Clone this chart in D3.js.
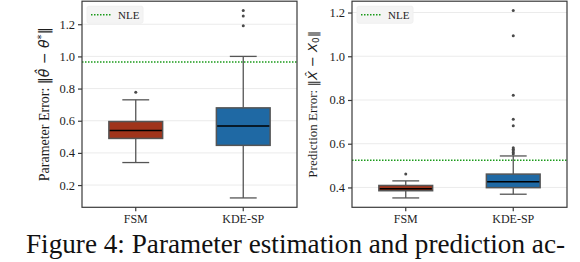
<!DOCTYPE html>
<html>
<head>
<meta charset="utf-8">
<script src="https://cdn.jsdelivr.net/npm/d3@7"></script>
<style>
  body { margin: 0; background: #fff; }
  svg { display: block; }
  .ser { font-family: "Liberation Serif", "Times New Roman", serif; }
  .cap { font-family: "Liberation Serif", "Times New Roman", Times, serif; }
  .math { font-family: "DejaVu Sans", sans-serif; }
</style>
</head>
<body>
<script>
// values
const groups = ['FSM', 'KDE-SP'];
const groupColors = ['#a0341b', '#1f69a4'];

// left panel: parameter error
const paramWhiskLo = [0.34, 0.12];
const paramQ1 = [0.49, 0.447];
const paramMedian = [0.54, 0.568];
const paramQ3 = [0.595, 0.68];
const paramWhiskHi = [0.73, 1.0];
const paramOutliers = [[0.777], [1.19, 1.252, 1.285]];
const paramNLE = 0.965;
const paramTicks = [0.2, 0.4, 0.6, 0.8, 1.0, 1.2];

// right panel: prediction error
const predWhiskLo = [0.352, 0.369];
const predQ1 = [0.385, 0.399];
const predMedian = [0.394, 0.426];
const predQ3 = [0.409, 0.461];
const predWhiskHi = [0.43, 0.544];
const predOutliers = [[0.461], [0.553, 0.56, 0.568, 0.575, 0.582, 0.682, 0.712, 0.822, 1.094, 1.209]];
const predNLE = 0.524;
const predTicks = [0.4, 0.6, 0.8, 1.0, 1.2];

const W = 580, H = 262;

const svg = d3.select('body').append('svg')
  .attr('width', W)
  .attr('height', H);

function drawPanel(opt) {
  const x0 = opt.left, x1 = opt.left + 215;
  const y0 = 1.2, y1 = 207.3;

  const all = [].concat(opt.lo, opt.hi, ...opt.out);
  const mn = d3.min(all), mx = d3.max(all);
  const pad = (mx - mn) * 0.05;
  const y = d3.scaleLinear().domain([mn - pad, mx + pad]).range([y1, y0]);
  const x = d3.scaleBand().domain(groups).range([x0, x1]);
  const bw = x.bandwidth() * 0.5;

  const g = svg.append('g');

  // grid
  g.selectAll('line.grid')
    .data(opt.ticks)
    .join('line')
    .attr('x1', x0).attr('x2', x1)
    .attr('y1', d => y(d)).attr('y2', d => y(d))
    .attr('stroke', '#ebebeb')
    .attr('stroke-width', 1);

  // NLE line
  g.append('line')
    .attr('x1', x0).attr('x2', x1)
    .attr('y1', y(opt.nle)).attr('y2', y(opt.nle))
    .attr('stroke', '#1a9a1a')
    .attr('stroke-width', 1.5)
    .attr('stroke-dasharray', '1.5,1.5');

  const boxes = g.selectAll('g.box')
    .data(groups)
    .join('g')
    .attr('class', 'box');

  // whiskers
  boxes.append('line')
    .attr('x1', d => x(d) + x.bandwidth() / 2)
    .attr('x2', d => x(d) + x.bandwidth() / 2)
    .attr('y1', (d, i) => y(opt.lo[i]))
    .attr('y2', (d, i) => y(opt.q1[i]))
    .attr('stroke', '#555').attr('stroke-width', 1.3);
  boxes.append('line')
    .attr('x1', d => x(d) + x.bandwidth() / 2)
    .attr('x2', d => x(d) + x.bandwidth() / 2)
    .attr('y1', (d, i) => y(opt.q3[i]))
    .attr('y2', (d, i) => y(opt.hi[i]))
    .attr('stroke', '#555').attr('stroke-width', 1.3);
  // caps
  [opt.lo, opt.hi].forEach(arr => {
    boxes.append('line')
      .attr('x1', d => x(d) + x.bandwidth() / 2 - bw / 4)
      .attr('x2', d => x(d) + x.bandwidth() / 2 + bw / 4)
      .attr('y1', (d, i) => y(arr[i]))
      .attr('y2', (d, i) => y(arr[i]))
      .attr('stroke', '#555').attr('stroke-width', 1.3);
  });

  // box body
  boxes.append('rect')
    .attr('x', d => x(d) + x.bandwidth() / 2 - bw / 2)
    .attr('width', bw)
    .attr('y', (d, i) => y(opt.q3[i]))
    .attr('height', (d, i) => y(opt.q1[i]) - y(opt.q3[i]))
    .attr('fill', (d, i) => groupColors[i])
    .attr('stroke', '#555')
    .attr('stroke-width', 1.5);

  // median
  boxes.append('line')
    .attr('x1', d => x(d) + x.bandwidth() / 2 - bw / 2 + 0.8)
    .attr('x2', d => x(d) + x.bandwidth() / 2 + bw / 2 - 0.8)
    .attr('y1', (d, i) => y(opt.med[i]))
    .attr('y2', (d, i) => y(opt.med[i]))
    .attr('stroke', '#000').attr('stroke-width', 1.5);

  // outliers
  boxes.each(function(d, i) {
    d3.select(this).selectAll('circle')
      .data(opt.out[i])
      .join('circle')
      .attr('cx', x(d) + x.bandwidth() / 2)
      .attr('cy', v => y(v))
      .attr('r', 1.5)
      .attr('fill', '#4a4a4a');
  });

  // frame
  g.append('rect')
    .attr('x', x0).attr('y', y0)
    .attr('width', x1 - x0).attr('height', y1 - y0)
    .attr('fill', 'none')
    .attr('stroke', '#3a3a3a')
    .attr('stroke-width', 1.2);

  // axes
  const ya = g.append('g')
    .attr('transform', `translate(${x0},0)`)
    .call(d3.axisLeft(y).tickValues(opt.ticks).tickFormat(d3.format('.1f')).tickSize(4).tickPadding(3));
  const xa = g.append('g')
    .attr('transform', `translate(0,${y1})`)
    .call(d3.axisBottom(x).tickSize(4).tickPadding(3));
  [ya, xa].forEach(a => {
    a.attr('font-family', null).attr('font-size', null);
    a.select('.domain').remove();
    a.selectAll('line').attr('stroke', '#3a3a3a').attr('stroke-width', 1.2);
    a.selectAll('text')
      .attr('class', 'ser')
      .attr('fill', '#1e1e1e')
      .style('font-size', '12.5px');
  });
  xa.selectAll('text').style('font-size', '12px');

  // legend
  const lg = g.append('g').attr('transform', `translate(${x0 + 5},${y0 + 5})`);
  lg.append('rect')
    .attr('width', 56).attr('height', 17)
    .attr('rx', 2)
    .attr('fill', '#f4f4f4')
    .attr('stroke', '#f0f0f0');
  lg.append('line')
    .attr('x1', 4).attr('x2', 25)
    .attr('y1', 8.5).attr('y2', 8.5)
    .attr('stroke', '#1a9a1a')
    .attr('stroke-width', 1.5)
    .attr('stroke-dasharray', '1.5,1.5');
  lg.append('text')
    .attr('class', 'ser')
    .attr('x', 31).attr('y', 12.5)
    .style('font-size', '11px')
    .attr('fill', '#1e1e1e')
    .text('NLE');

  // y label, sized to the length it has in the figure
  const lbl = g.append('text')
    .attr('class', 'ser')
    .attr('transform', `translate(${opt.labelX},${(y0 + y1) / 2}) rotate(-90)`)
    .attr('text-anchor', 'middle')
    .attr('fill', '#1e1e1e')
    .style('font-size', '11px');
  opt.label(lbl);
  const lw = lbl.node().getComputedTextLength();
  const k = opt.labelLen / lw;
  lbl.style('font-size', (11 * k).toFixed(2) + 'px');
  lbl.selectAll('tspan').each(function() {
    const s = d3.select(this);
    if (s.attr('data-fs')) s.style('font-size', (+s.attr('data-fs') * k).toFixed(2) + 'px');
    if (s.attr('data-dy')) s.attr('dy', (+s.attr('data-dy') * k).toFixed(2));
  });
}

function mathPart(t, txt, italic, size, dy) {
  const s = t.append('tspan').attr('class', 'math').text(txt);
  if (italic) s.style('font-style', 'italic');
  if (size) s.attr('data-fs', size).style('font-size', size + 'px');
  if (dy) s.attr('data-dy', dy).attr('dy', dy);
  return s;
}

drawPanel({
  left: 82, labelX: 48.5, labelLen: 154,
  lo: paramWhiskLo, q1: paramQ1, med: paramMedian, q3: paramQ3, hi: paramWhiskHi,
  out: paramOutliers, nle: paramNLE, ticks: paramTicks,
  label: t => {
    t.append('tspan').text('Parameter Error: ');
    mathPart(t, '\u2016');
    mathPart(t, '\u03b8\u0302', true);
    mathPart(t, ' \u2212 ');
    mathPart(t, '\u03b8', true);
    mathPart(t, '*', false, 8, -3);
    mathPart(t, '\u2016', false, null, 3);
  }
});

drawPanel({
  left: 352, labelX: 316.5, labelLen: 147,
  lo: predWhiskLo, q1: predQ1, med: predMedian, q3: predQ3, hi: predWhiskHi,
  out: predOutliers, nle: predNLE, ticks: predTicks,
  label: t => {
    t.append('tspan').text('Prediction Error: ');
    mathPart(t, '\u2016');
    mathPart(t, 'X\u0302', true);
    mathPart(t, ' \u2212 ');
    mathPart(t, 'X', true);
    mathPart(t, '0', false, 7.5, 2);
    mathPart(t, '\u2016', false, null, -2);
  }
});

// caption, fitted to the width it takes in the figure
const cap = svg.append('text')
  .attr('class', 'cap')
  .attr('x', 26).attr('y', 253)
  .attr('fill', '#111')
  .style('font-size', '22px')
  .text('Figure 4: Parameter estimation and prediction ac-');
const cw = cap.node().getComputedTextLength();
cap.style('font-size', (22 * 539 / cw).toFixed(2) + 'px');
</script>
</body>
</html>
